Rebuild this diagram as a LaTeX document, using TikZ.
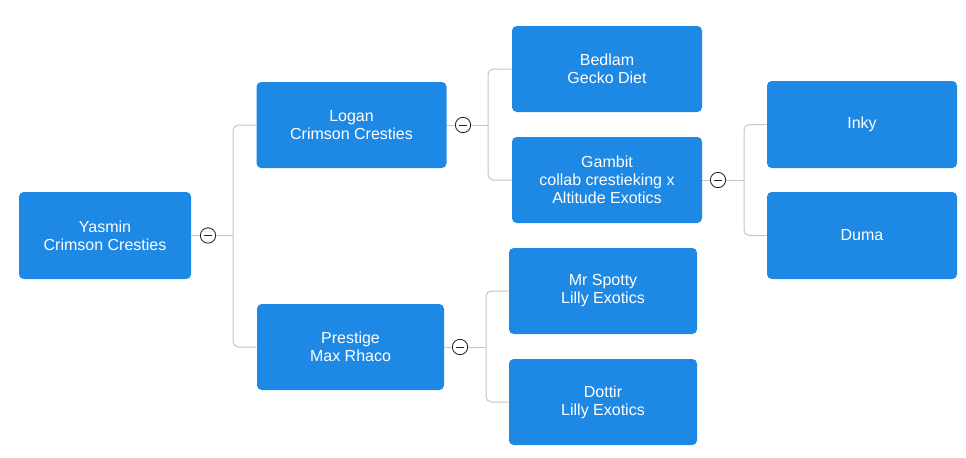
\documentclass[tikz,border=0pt]{standalone}
\usepackage{fontspec}
\setmainfont{Liberation Sans}
\definecolor{boxblue}{HTML}{1E88E5}
\definecolor{linegray}{HTML}{C6C6C6}
\begin{document}
\begin{tikzpicture}[x=0.75pt,y=-0.75pt,
  box/.style={fill=boxblue, rounded corners=3.5pt, text=white, align=center,
    font=\fontsize{12pt}{13.5pt}\selectfont, minimum width=142.5pt, minimum height=64.5pt, inner sep=0pt},
  toggle/.style={circle, draw=black!85, line width=0.65pt, fill=white, minimum size=11.5pt, inner sep=0pt,
    path picture={\draw[line width=0.65pt] ([xshift=-3.2pt]path picture bounding box.center) -- ([xshift=3.2pt]path picture bounding box.center);}},
  conn/.style={draw=linegray, line width=0.75pt, rounded corners=4pt}]
\useasboundingbox (0,0) rectangle (966,457);
\fill[white] (0,0) rectangle (966,457);
% nodes
\node[box, minimum width=129pt, minimum height=65.25pt] (yasmin) at (105,235.5) {Yasmin\\Crimson Cresties};
\node[box] (logan) at (351.5,125) {Logan\\Crimson Cresties};
\node[box, minimum width=140.25pt] (prestige) at (350.5,347) {Prestige\\Max Rhaco};
\node[box] (bedlam) at (607,69) {Bedlam\\Gecko Diet};
\node[box] (gambit) at (607,180) {Gambit\\collab crestieking x\\Altitude Exotics};
\node[box, minimum width=141pt] (spotty) at (603,291) {Mr Spotty\\Lilly Exotics};
\node[box, minimum width=141pt] (dottir) at (603,402) {Dottir\\Lilly Exotics};
\node[box, minimum height=65.25pt] (inky) at (862,124.5) {Inky};
\node[box, minimum height=65.25pt] (duma) at (862,235.5) {Duma};
% junctions
\coordinate (j1) at (233,235.5);
\coordinate (j2) at (488,125);
\coordinate (j3) at (486,347);
\coordinate (j4) at (744,180);
% connectors
\draw[conn] (logan.west) -| (j1) |- (prestige.west);
\draw[conn] (bedlam.west) -| (j2) |- (gambit.west);
\draw[conn] (spotty.west) -| (j3) |- (dottir.west);
\draw[conn] (inky.west) -| (j4) |- (duma.west);
\node[toggle] (t1) at (208,235.5) {};
\node[toggle] (t2) at (463,125) {};
\node[toggle] (t3) at (460,347) {};
\node[toggle] (t4) at (718,180) {};
\draw[conn] (yasmin.east) -- (t1);
\draw[conn] (t1) -- (j1);
\draw[conn] (logan.east) -- (t2);
\draw[conn] (t2) -- (j2);
\draw[conn] (prestige.east) -- (t3);
\draw[conn] (t3) -- (j3);
\draw[conn] (gambit.east) -- (t4);
\draw[conn] (t4) -- (j4);
\end{tikzpicture}
\end{document}
